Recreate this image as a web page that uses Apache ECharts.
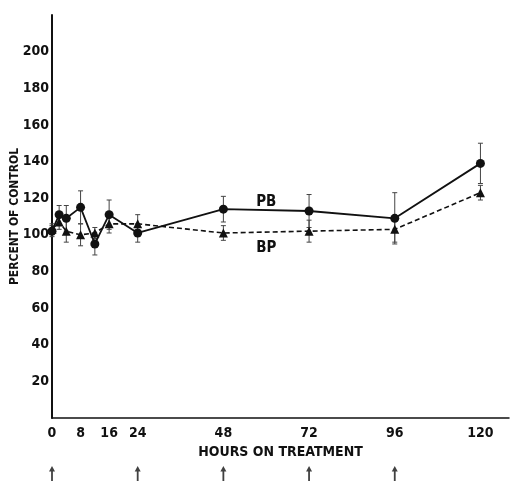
<!DOCTYPE html>
<html>
<head>
<meta charset="utf-8">
<script src="https://cdn.jsdelivr.net/npm/echarts@6/dist/echarts.min.js"></script>
<style>
html,body{margin:0;padding:0;background:#fff;}
#c{width:510px;height:481px;}
</style>
</head>
<body>
<div id="c"></div>
<script>
// Hours on treatment
var hours = [0, 2, 4, 8, 12, 16, 24, 48, 72, 96, 120];
// PB (circles, solid line), percent of control
var pbValues = [102, 111, 109, 115, 95, 111, 101, 114, 113, 109, 139];
var pbErrors = [3, 5, 7, 9, 6, 8, 5, 7, 9, 14, 11];
// BP (triangles, dashed line), percent of control
var bpValues = [103, 107, 102, 100, 101, 106, 106, 101, 102, 103, 123];
var bpErrors = [3, 4, 6, 6, 3, 5, 5, 4, 6, 7, 4];
// Treatment times (arrows)
var doseTimes = [0, 24, 48, 72, 96];
// Tick labels
var xTickLabels = [0, 8, 16, 24, 48, 72, 96, 120];
var yTickLabels = [20, 40, 60, 80, 100, 120, 140, 160, 180, 200];

var FONT = "'Liberation Sans Narrow', 'DejaVu Sans Condensed', 'Roboto Condensed', sans-serif";

function pairs(vals){ return hours.map(function(h,i){ return [h, vals[i]]; }); }
function errRows(vals, errs){ return hours.map(function(h,i){ return [h, vals[i]-errs[i], vals[i]+errs[i]]; }); }

function errRender(params, api){
  var x = api.value(0), lo = api.value(1), hi = api.value(2);
  var p1 = api.coord([x, lo]), p2 = api.coord([x, hi]);
  var w = 2.5;
  var st = {stroke: '#444', lineWidth: 1};
  return {type:'group', children:[
    {type:'line', shape:{x1:p1[0], y1:p1[1], x2:p2[0], y2:p2[1]}, style:st},
    {type:'line', shape:{x1:p1[0]-w, y1:p1[1], x2:p1[0]+w, y2:p1[1]}, style:st},
    {type:'line', shape:{x1:p2[0]-w, y1:p2[1], x2:p2[0]+w, y2:p2[1]}, style:st}
  ]};
}

var chart = echarts.init(document.getElementById('c'), null, {renderer:'canvas'});
chart.setOption({
  animation: false,
  backgroundColor: '#fff',
  grid: [
    {left: 52, right: 1, top: 15, bottom: 63, containLabel: false, outerBoundsMode: 'none'},
    {left: 52, right: 1, top: 466, height: 15, containLabel: false, outerBoundsMode: 'none'}
  ],
  xAxis: [{
    type: 'value', gridIndex: 0, min: 0, max: 128,
    name: 'HOURS ON TREATMENT', nameLocation: 'middle', nameGap: 27, nameMoveOverlap: false,
    nameTextStyle: {fontFamily: FONT, fontWeight: 'bold', fontSize: 14, color: '#111'},
    axisLine: {show: true, onZero: false, lineStyle: {color: '#111', width: 1.5}},
    axisTick: {show: false},
    splitLine: {show: false},
    axisLabel: {customValues: xTickLabels, margin: 8, fontFamily: FONT, fontWeight: 'bold', fontSize: 14, color: '#111'}
  }, {
    type: 'value', gridIndex: 1, min: 0, max: 128, show: false
  }],
  yAxis: [{
    type: 'value', gridIndex: 0, min: 0, max: 220,
    name: 'PERCENT OF CONTROL', nameLocation: 'middle', nameGap: 31, nameRotate: 90, nameMoveOverlap: false,
    nameTextStyle: {fontFamily: FONT, fontWeight: 'bold', fontSize: 12, color: '#111'},
    axisLine: {show: true, onZero: false, lineStyle: {color: '#111', width: 2}},
    axisTick: {show: false},
    splitLine: {show: false},
    axisLabel: {customValues: yTickLabels, margin: 3, fontFamily: FONT, fontWeight: 'bold', fontSize: 14, color: '#111'}
  }, {
    type: 'value', gridIndex: 1, min: 0, max: 1, show: false
  }],
  series: [
    {
      type: 'custom', name: 'PB err', xAxisIndex: 0, yAxisIndex: 0,
      renderItem: errRender, data: errRows(pbValues, pbErrors), z: 1
    },
    {
      type: 'custom', name: 'BP err', xAxisIndex: 0, yAxisIndex: 0,
      renderItem: errRender, data: errRows(bpValues, bpErrors), z: 1
    },
    {
      type: 'line', name: 'BP', data: pairs(bpValues),
      symbol: 'triangle', symbolSize: 9, showAllSymbol: true,
      lineStyle: {color: '#111', width: 1.6, type: [5, 3]},
      itemStyle: {color: '#111'}, z: 3,
      markPoint: {
        symbol: 'circle', symbolSize: 1, itemStyle: {color: 'rgba(0,0,0,0)'},
        label: {show: true, formatter: 'BP', fontFamily: FONT, fontWeight: 'bold', fontSize: 15, color: '#111'},
        data: [{coord: [60, 92.5]}]
      }
    },
    {
      type: 'line', name: 'PB', data: pairs(pbValues),
      symbol: 'circle', symbolSize: 9, showAllSymbol: true,
      lineStyle: {color: '#111', width: 1.8},
      itemStyle: {color: '#111'}, z: 4,
      markPoint: {
        symbol: 'circle', symbolSize: 1, itemStyle: {color: 'rgba(0,0,0,0)'},
        label: {show: true, formatter: 'PB', fontFamily: FONT, fontWeight: 'bold', fontSize: 15, color: '#111'},
        data: [{coord: [60, 118]}]
      }
    },
    {
      type: 'scatter', name: 'doses', xAxisIndex: 1, yAxisIndex: 1,
      data: doseTimes.map(function(t){ return [t, 0.5]; }),
      symbol: 'path://M5,0 L10,8 L6.5,8 L6.5,22 L3.5,22 L3.5,8 L0,8 Z',
      symbolSize: [6, 15], itemStyle: {color: '#111'}
    }
  ]
});
</script>
</body>
</html>
